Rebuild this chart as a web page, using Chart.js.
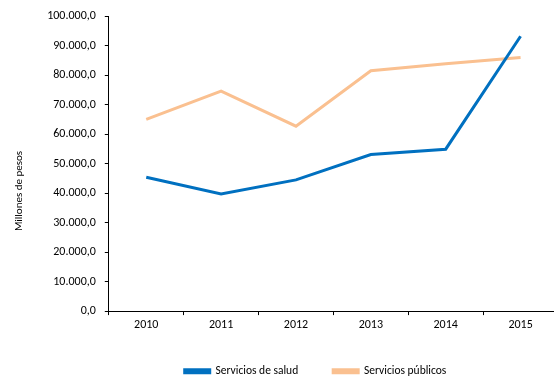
<!DOCTYPE html>
<html>
<head>
<meta charset="utf-8">
<script src="https://cdn.jsdelivr.net/npm/chart.js@4"></script>
<style>
  html, body { margin: 0; padding: 0; background: #fff; overflow: hidden; }
  #wrap { width: 558px; height: 379px; }
</style>
</head>
<body>
<div id="wrap"><canvas id="chart"></canvas></div>
<script>
  // datos
  const years = ['2010', '2011', '2012', '2013', '2014', '2015'];
  const salud = [45400, 39700, 44500, 53100, 54900, 93200];
  const publicos = [65000, 74600, 62700, 81500, 83900, 86000];
  const yTicks = [0, 10000, 20000, 30000, 40000, 50000, 60000, 70000, 80000, 90000, 100000];

  function formatNum(v) {
    const parts = v.toFixed(1).split('.');
    const ent = parts[0].replace(/\B(?=(\d{3})+(?!\d))/g, '.');
    return ent + ',' + parts[1];
  }

  const fontFam = "Carlito, 'Liberation Sans Narrow', 'Liberation Sans', sans-serif";

  // mueve la leyenda un poco a la derecha, como en el original
  const moverLeyenda = {
    id: 'moverLeyenda',
    afterLayout(chart) {
      chart.legend.left += 30;
      chart.legend.right += 30;
    }
  };

  const ctx = document.getElementById('chart').getContext('2d');
  new Chart(ctx, {
    type: 'line',
    data: {
      labels: years,
      datasets: [
        {
          label: 'Servicios de salud',
          data: salud,
          borderColor: '#0070c0',
          backgroundColor: '#0070c0',
          borderWidth: 3,
          pointRadius: 0,
          tension: 0
        },
        {
          label: 'Servicios públicos',
          data: publicos,
          borderColor: '#fac090',
          backgroundColor: '#fac090',
          borderWidth: 3,
          pointRadius: 0,
          tension: 0
        }
      ]
    },
    plugins: [moverLeyenda],
    options: {
      responsive: true,
      maintainAspectRatio: false,
      animation: false,
      layout: { padding: { top: 9, right: 0, left: 13, bottom: -8 } },
      plugins: {
        tooltip: { enabled: false },
        legend: {
          position: 'bottom',
          labels: {
            color: '#000',
            font: { family: fontFam, size: 11.5 },
            boxWidth: 25,
            boxHeight: 3,
            padding: 35
          }
        }
      },
      scales: {
        y: {
          min: 0,
          max: 100000,
          afterBuildTicks: (axis) => { axis.ticks = yTicks.map(v => ({ value: v })); },
          ticks: {
            color: '#000',
            font: { family: fontFam, size: 12 },
            padding: 9,
            callback: (v) => formatNum(v)
          },
          grid: { display: true, drawOnChartArea: false, color: '#000', tickLength: 4 },
          border: { color: '#000', width: 1 },
          title: {
            display: true,
            text: 'Millones de pesos' + ' '.repeat(22),
            color: '#000',
            font: { family: fontFam, size: 11 },
            padding: { top: 0, bottom: 12 }
          }
        },
        x: {
          offset: true,
          afterFit: (axis) => { axis.height -= 5; },
          ticks: {
            color: '#000',
            font: { family: fontFam, size: 12 },
            padding: 3
          },
          grid: { display: true, offset: true, drawOnChartArea: false, color: '#000', tickLength: 4 },
          border: { color: '#000', width: 1 }
        }
      }
    }
  });
</script>
</body>
</html>
